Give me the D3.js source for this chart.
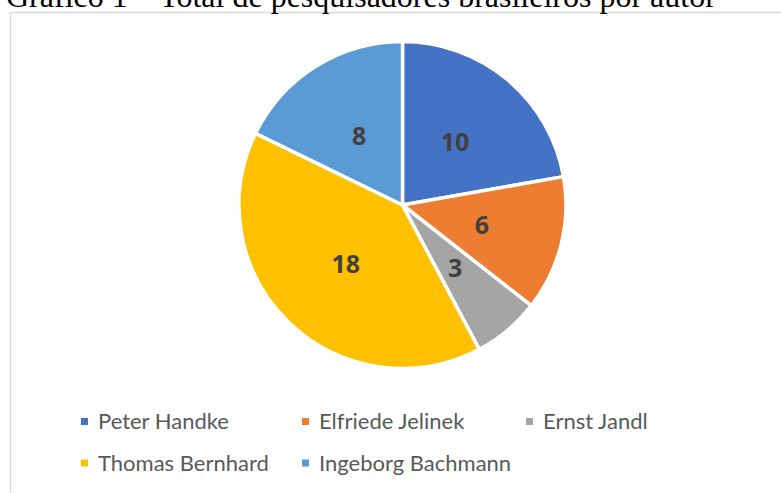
<!DOCTYPE html>
<html>
<head>
<meta charset="utf-8">
<script src="https://cdn.jsdelivr.net/npm/d3@7"></script>
<style>
  html, body { margin: 0; padding: 0; background: #fff; overflow: hidden; }
  svg { display: block; }
</style>
</head>
<body>
<svg id="chart" width="781" height="493"></svg>
<script>
// ---- data ----
const titleText = "Gráfico 1 – Total de pesquisadores brasileiros por autor";
const categories = ["Peter Handke", "Elfriede Jelinek", "Ernst Jandl", "Thomas Bernhard", "Ingeborg Bachmann"];
const values = [10, 6, 3, 18, 8];
const colors = ["#4472C4", "#ED7D31", "#A5A5A5", "#FFC000", "#5B9BD5"];

const W = 781, H = 493;
const svg = d3.select("#chart");

// chart area border (extends beyond the picture)
svg.append("rect")
  .attr("x", 10.5).attr("y", 12.5)
  .attr("width", 820).attr("height", 520)
  .attr("fill", "#fff")
  .attr("stroke", "#d9d9d9").attr("stroke-width", 1.5);

// title (clipped at top, serif)
svg.append("text")
  .attr("x", 6).attr("y", 7)
  .attr("font-family", "'Liberation Serif', 'Times New Roman', serif")
  .attr("font-size", 32)
  .attr("fill", "#000")
  .text(titleText);

// pie
const cx = 402.5, cy = 205, R = 163.5;
const data = categories.map((c, i) => ({ name: c, value: values[i], color: colors[i] }));
const pie = d3.pie().value(d => d.value).sort(null);
const arcs = pie(data);
const arc = d3.arc().innerRadius(0).outerRadius(R);

const g = svg.append("g").attr("transform", `translate(${cx},${cy})`);
g.selectAll("path.slice").data(arcs).enter().append("path")
  .attr("class", "slice")
  .attr("d", arc)
  .attr("fill", d => d.data.color)
  .attr("stroke", "#fff")
  .attr("stroke-width", 3.5)
  .attr("stroke-linejoin", "round");

g.selectAll("text.lbl").data(arcs).enter().append("text")
  .attr("class", "lbl")
  .attr("transform", d => { const c = arc.centroid(d); return `translate(${c[0]},${c[1]})`; })
  .attr("text-anchor", "middle")
  .attr("dy", "0.36em")
  .attr("font-family", "'Open Sans', sans-serif")
  .attr("font-weight", "bold")
  .attr("font-size", 25)
  .attr("fill", "#404040")
  .text(d => d.data.value);

// legend
const legendCols = [98, 319, 543];
const legendRows = [429, 470.5];
const legendPos = [[0,0],[1,0],[2,0],[0,1],[1,1]];
const lg = svg.append("g");
data.forEach((d, i) => {
  const [ci, ri] = legendPos[i];
  const x = legendCols[ci], y = legendRows[ri];
  lg.append("rect")
    .attr("x", x - 17).attr("y", y - 11)
    .attr("width", 7).attr("height", 7)
    .attr("fill", d.color);
  lg.append("text")
    .attr("x", x).attr("y", y)
    .attr("font-family", "Lato, 'Open Sans', sans-serif")
    .attr("font-size", 22)
    .attr("fill", "#595959")
    .text(d.name);
});
</script>
</body>
</html>
